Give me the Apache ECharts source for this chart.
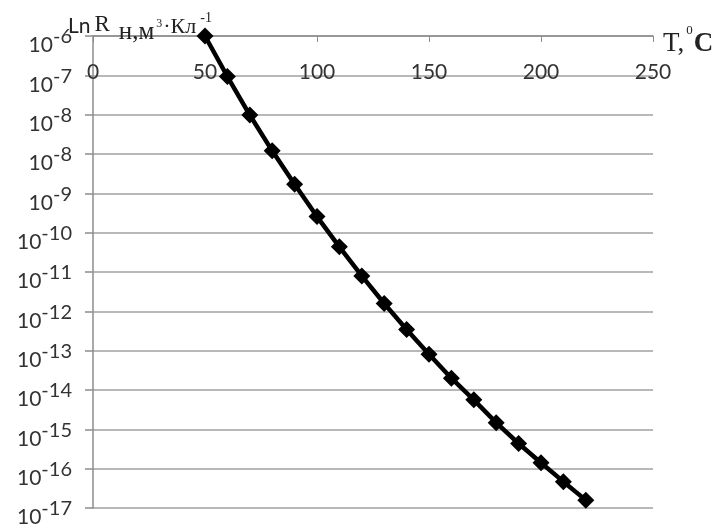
<!DOCTYPE html>
<html>
<head>
<meta charset="utf-8">
<script src="https://cdn.jsdelivr.net/npm/echarts@6/dist/echarts.min.js"></script>
<style>
html,body{margin:0;padding:0;background:#fff;}
#chart{width:715px;height:529px;}
</style>
</head>
<body>
<div id="chart"></div>
<script>
// Temperature, °C
const temps = [50, 60, 70, 80, 90, 100, 110, 120, 130, 140, 150, 160, 170, 180, 190, 200, 210, 220];
// Position on the vertical scale, in gridline steps below the top line (10^-6)
const levels = [0, 1.03, 2.01, 2.92, 3.77, 4.59, 5.36, 6.10, 6.80, 7.46, 8.09, 8.70, 9.25, 9.83, 10.36, 10.85, 11.33, 11.80];
// Exponents printed on the y tick labels (top to bottom)
const yTickExponents = ['-6', '-7', '-8', '-8', '-9', '-10', '-11', '-12', '-13', '-14', '-15', '-16', '-17'];
const xTicks = [0, 50, 100, 150, 200, 250];

const points = temps.map((t, i) => [t, levels[i]]);
const serif = '"Liberation Serif", "DejaVu Serif", serif';
const sans = 'Lato, "Noto Sans", sans-serif';
const ink = '#222';

function tok(family, size, pad, extra) {
  return Object.assign({fontFamily: family, fontSize: size, lineHeight: 40, fontWeight: 'normal', color: ink, padding: pad}, extra || {});
}

const chart = echarts.init(document.getElementById('chart'), null, {renderer: 'canvas'});
chart.setOption({
  backgroundColor: '#ffffff',
  animation: false,
  title: [
    {
      left: 68, top: 5, padding: 0,
      text: '{a|Ln}{r|R}{b|н,м}{c|3}{d|·Кл}{e|-1}',
      textStyle: {
        fontWeight: 'normal',
        rich: {
          a: tok(sans, 21, [3, 4, 0, 0]),
          r: tok(serif, 23, [0, 0, 0, 0]),
          b: tok(serif, 25, [15, 0, 0, 9]),
          c: tok(serif, 12, [0, 0, 2, 2]),
          d: tok(serif, 22, [5, 0, 0, 1]),
          e: tok(serif, 14, [0, 0, 13, 4])
        }
      }
    },
    {
      left: 663, top: 14, padding: 0,
      text: '{t|T,}{s|0}{c|C}',
      textStyle: {
        fontWeight: 'normal',
        rich: {
          t: tok(serif, 27, [20, 0, 0, 0]),
          s: tok(serif, 13, [0, 0, 6, 2]),
          c: tok(serif, 27, [20, 0, 0, 1], {fontWeight: 'bold'})
        }
      }
    }
  ],
  grid: {left: 93, right: 62, top: 36, bottom: 21, containLabel: false},
  xAxis: {
    type: 'value',
    position: 'top',
    min: 0, max: 250, interval: 50,
    axisLine: {show: true, lineStyle: {color: '#8c8c8c', width: 1.5}},
    axisTick: {show: true, inside: true, length: 6, lineStyle: {color: '#8c8c8c', width: 1}},
    axisLabel: {
      inside: true, margin: 26, showMinLabel: true, showMaxLabel: true,
      fontFamily: sans, fontSize: 21, color: '#333',
      formatter: v => (xTicks.indexOf(v) >= 0 ? String(v) : '')
    },
    splitLine: {show: false}
  },
  yAxis: {
    type: 'value',
    inverse: true,
    min: 0, max: 12, interval: 1,
    axisLine: {show: true, onZero: false, lineStyle: {color: '#8c8c8c', width: 1.5}},
    axisTick: {show: true, length: 8, lineStyle: {color: '#8c8c8c', width: 1.5}},
    axisLabel: {
      margin: 21, showMinLabel: true, showMaxLabel: true, hideOverlap: false,
      color: '#333',
      formatter: v => {
        const i = Math.round(v);
        return '{b|10}{s|' + yTickExponents[i] + '}';
      },
      rich: {
        b: {fontFamily: sans, fontSize: 21, lineHeight: 21, color: '#333', padding: [0, 0, -19, 0]},
        s: {fontFamily: sans, fontSize: 20, lineHeight: 21, color: '#333', padding: [0, 0, -2, 0]}
      }
    },
    splitLine: {show: true, lineStyle: {color: '#a0a0a0', width: 1.5}}
  },
  series: [{
    type: 'line',
    data: points,
    clip: false,
    symbol: 'diamond',
    symbolSize: 17,
    itemStyle: {color: '#000'},
    lineStyle: {color: '#000', width: 4.5},
    z: 5
  }]
});
</script>
</body>
</html>
